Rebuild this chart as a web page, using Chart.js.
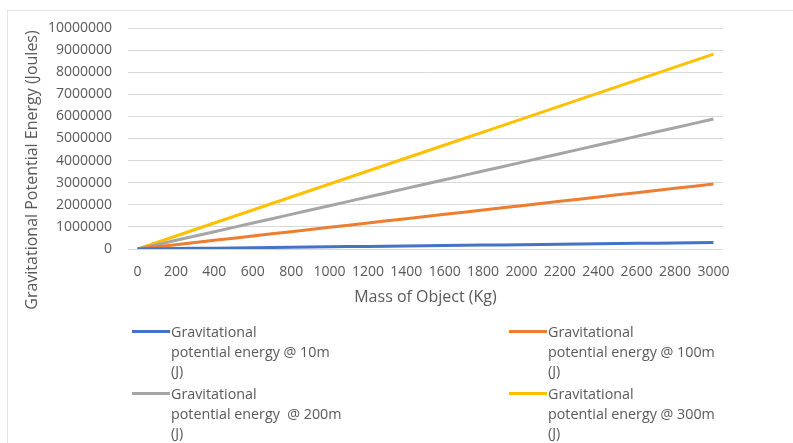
<!DOCTYPE html>
<html>
<head>
<meta charset="utf-8">
<script src="https://cdn.jsdelivr.net/npm/chart.js@4.4.1/dist/chart.umd.min.js"></script>
<style>
  html, body { margin: 0; padding: 0; background: #fff; }
  #wrap { position: relative; width: 793px; height: 443px; overflow: hidden; }
  #frame { position: absolute; left: 7px; top: 10px; width: 786px; height: 433px;
           border-top: 1px solid #e3e3e3; border-left: 1px solid #e3e3e3; box-sizing: border-box; }
  #gpe { position: absolute; left: 0; top: 0; }
  .item { position: absolute; font-family: "Open Sans", sans-serif; font-size: 14.3px;
          color: #595959; line-height: 19.5px; }
  .item .swatch { position: absolute; width: 38px; height: 3px; left: -39px; top: 8px; }
</style>
</head>
<body>
<div id="wrap">
  <div id="frame"></div>
  <canvas id="gpe" width="793" height="443"></canvas>
  <div id="legend"></div>
</div>
<script>
// massa (kg) längs x-axeln
const masses = [0, 100, 200, 300, 400, 500, 600, 700, 800, 900, 1000, 1100, 1200, 1300, 1400, 1500,
  1600, 1700, 1800, 1900, 2000, 2100, 2200, 2300, 2400, 2500, 2600, 2700, 2800, 2900, 3000];

// lägesenergi i joule för varje höjd
const gpe10 = [0, 9800, 19600, 29400, 39200, 49000, 58800, 68600, 78400, 88200, 98000, 107800,
  117600, 127400, 137200, 147000, 156800, 166600, 176400, 186200, 196000, 205800, 215600, 225400,
  235200, 245000, 254800, 264600, 274400, 284200, 294000];
const gpe100 = [0, 98000, 196000, 294000, 392000, 490000, 588000, 686000, 784000, 882000, 980000,
  1078000, 1176000, 1274000, 1372000, 1470000, 1568000, 1666000, 1764000, 1862000, 1960000,
  2058000, 2156000, 2254000, 2352000, 2450000, 2548000, 2646000, 2744000, 2842000, 2940000];
const gpe200 = [0, 196000, 392000, 588000, 784000, 980000, 1176000, 1372000, 1568000, 1764000,
  1960000, 2156000, 2352000, 2548000, 2744000, 2940000, 3136000, 3332000, 3528000, 3724000,
  3920000, 4116000, 4312000, 4508000, 4704000, 4900000, 5096000, 5292000, 5488000, 5684000, 5880000];
const gpe300 = [0, 294000, 588000, 882000, 1176000, 1470000, 1764000, 2058000, 2352000, 2646000,
  2940000, 3234000, 3528000, 3822000, 4116000, 4410000, 4704000, 4998000, 5292000, 5586000,
  5880000, 6174000, 6468000, 6762000, 7056000, 7350000, 7644000, 7938000, 8232000, 8526000, 8820000];

// etiketter, radbrutna som i originalet
const seriesLabels = [
  ["Gravitational", "potential energy @ 10m", "(J)"],
  ["Gravitational", "potential energy @ 100m", "(J)"],
  ["Gravitational", "potential energy  @ 200m", "(J)"],
  ["Gravitational", "potential energy @ 300m", "(J)"]
];
const seriesColors = ["#4472C4", "#ED7D31", "#A5A5A5", "#FFC000"];
const seriesData = [gpe10, gpe100, gpe200, gpe300];
const yTitle = "Gravitational Potential Energy (Joules)";
const xTitle = "Mass of Object (Kg)";

const textColor = "#595959";
const font = { family: "'Open Sans', sans-serif", size: 14 };
const titleFont = { family: "'Open Sans', sans-serif", size: 16 };

const datasets = seriesData.map((values, i) => ({
  label: seriesLabels[i].join(" "),
  data: values,
  borderColor: seriesColors[i],
  backgroundColor: seriesColors[i],
  borderWidth: 3,
  pointRadius: 0,
  tension: 0
}));

// y-titeln ligger lite nedanför mitten i originalet, så den ritas för hand
const yTitlePlugin = {
  id: "yTitle",
  afterDraw(chart) {
    const ctx = chart.ctx;
    ctx.save();
    ctx.translate(32, 170);
    ctx.rotate(-Math.PI / 2);
    ctx.font = titleFont.size + "px " + titleFont.family;
    ctx.fillStyle = textColor;
    ctx.textAlign = "center";
    ctx.textBaseline = "middle";
    ctx.fillText(yTitle, 0, 0);
    ctx.restore();
  }
};

const config = {
  type: "line",
  data: { labels: masses.map(String), datasets },
  options: {
    responsive: false,
    animation: false,
    layout: { padding: { left: 21, top: 28, right: 70, bottom: 136 } },
    plugins: { legend: { display: false }, tooltip: { enabled: false } },
    scales: {
      x: {
        offset: true,
        grid: { display: false, drawTicks: false },
        border: { display: false },
        ticks: {
          color: textColor, font, padding: 15, autoSkip: false, maxRotation: 0,
          callback: function (val, i) { return i % 2 === 0 ? this.getLabelForValue(val) : ""; }
        },
        title: { display: true, text: xTitle, color: textColor, font: titleFont,
                 padding: { top: 6, bottom: 0 } },
        afterFit: s => { s.height = 58; }
      },
      y: {
        min: 0, max: 10000000,
        grid: { color: "#d9d9d9", drawTicks: false },
        border: { display: false },
        ticks: { color: textColor, font, padding: 16, stepSize: 1000000, callback: v => v },
        afterFit: s => { s.width = 107; }
      }
    }
  },
  plugins: [yTitlePlugin]
};

const canvas = document.getElementById("gpe");
const chart = new Chart(canvas, config);

// egen förklaring i två kolumner
const legendPos = [[171, 322], [548, 322], [171, 384], [548, 384]];
const legend = document.getElementById("legend");
seriesLabels.forEach((lines, i) => {
  const item = document.createElement("div");
  item.className = "item";
  item.style.left = legendPos[i][0] + "px";
  item.style.top = legendPos[i][1] + "px";
  item.innerHTML = '<div class="swatch" style="background:' + seriesColors[i] + '"></div>' +
    lines.map(l => "<div>" + l.replace(/ /g, "&nbsp;") + "</div>").join("");
  legend.appendChild(item);
});
</script>
</body>
</html>
